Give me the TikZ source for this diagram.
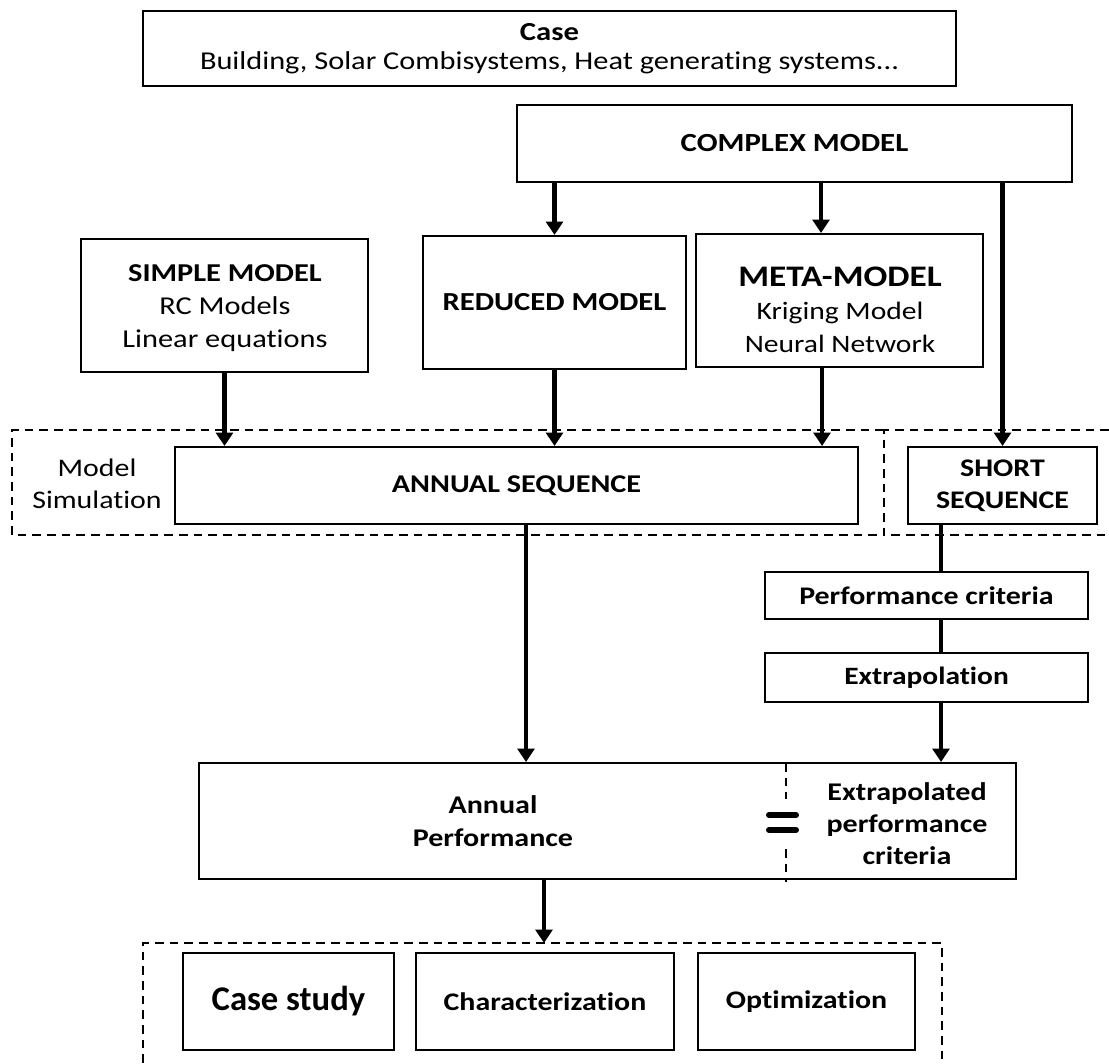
\documentclass[tikz,border=0pt]{standalone}
\usepackage{fontspec}
\setmainfont{Carlito}[FakeStretch=1.18, Ligatures=NoCommon]
\newfontfamily\widefont{Carlito}[Ligatures=NoCommon]
\usetikzlibrary{arrows.meta,calc}
\begin{document}
\begin{tikzpicture}[x=0.75pt,y=-0.75pt,
  box/.style={draw, line width=1.5pt, inner sep=0pt, align=center},
  txt/.style={inner sep=0pt, align=center},
  arr/.style={line width=3.5pt, -{Triangle[length=10pt,width=12.5pt]}},
  conn/.style={line width=3.5pt},
  dsh/.style={line width=1.5pt, dash pattern=on 6.5pt off 4.5pt}]
\useasboundingbox (0,0) rectangle (1109,1063);

% top
\node[box, minimum width=609.75pt, minimum height=56.25pt, font=\fontsize{19.3}{21.75}\selectfont] (case) at (549.5,48.5)
  {{\bfseries\fontsize{19.5}{21.75}\selectfont Case}\\Building, Solar Combisystems, Heat generating systems...};
\node[box, minimum width=416.25pt, minimum height=57.75pt, font=\fontsize{19.6}{24}\selectfont\bfseries] (complex) at (794.5,143.5) {COMPLEX MODEL};

% models
\node[box, minimum width=215.25pt, minimum height=99.75pt] (simple) at (224.5,305.5) {};
\node[txt, font=\fontsize{19.3}{24.75}\selectfont] (simpletxt) at (225,308)
  {{\bfseries SIMPLE MODEL}\\RC Models\\Linear equations};
\node[box, minimum width=197.25pt, minimum height=99.75pt, font=\fontsize{19.5}{24}\selectfont\bfseries] (reduced) at (554.5,302.5) {REDUCED MODEL};
\node[box, minimum width=215.25pt, minimum height=99.75pt] (meta) at (839.5,300.5) {};
\node[txt, font=\fontsize{18.8}{24.75}\selectfont] (metatxt) at (840,310)
  {{\bfseries\fontsize{22.4}{24.75}\selectfont META-MODEL}\\Kriging Model\\Neural Network};

% simulation
\draw[dsh] (884,430) -- (12,430) -- (12,535) -- (884,535);
\draw[dsh] (1109,430) -- (884,430) -- (884,535) -- (1109,535);
\node[txt, font=\fontsize{19}{24}\selectfont] (modsim) at (97,484) {Model\\Simulation};
\node[box, minimum width=512.25pt, minimum height=57.75pt, font=\fontsize{19.2}{24}\selectfont\bfseries] (annual) at (516.5,485.5) {ANNUAL SEQUENCE};
\node[box, minimum width=141.75pt, minimum height=57.75pt, font=\fontsize{19}{24}\selectfont\bfseries] (short) at (1002.5,485.5) {SHORT\\SEQUENCE};

% short sequence chain
\node[box, minimum width=242.25pt, minimum height=35.25pt, font=\fontsize{19}{22}\selectfont\bfseries] (perf) at (926.5,595.5) {Performance criteria};
\node[box, minimum width=242.25pt, minimum height=36.75pt, font=\fontsize{18.7}{22}\selectfont\bfseries] (extrap) at (926.5,677.5) {Extrapolation};

% annual performance
\node[box, minimum width=612.75pt, minimum height=87pt] (annperf) at (607.5,821) {};
\node[txt, font=\fontsize{19.1}{24.75}\selectfont\bfseries] (annperftxt) at (493,821) {Annual\\Performance};
\node[txt, font=\fontsize{19.1}{24}\selectfont\bfseries] (extraptxt) at (907,824) {Extrapolated\\performance\\criteria};
\draw[dsh] (786,763) -- (786,799);
\draw[dsh] (786,849) -- (786,882);
\draw[line width=4.5pt, line cap=round] (769,815) -- (796,815);
\draw[line width=4.5pt, line cap=round] (769,830) -- (796,830);

% results
\draw[dsh] (143,1063) -- (143,943) -- (942,943) -- (942,1063);
\coordinate (grp) at (544,943);
\node[box, minimum width=158.25pt, minimum height=72.75pt, font=\widefont\fontsize{26}{30}\selectfont\bfseries] (casestudy) at (288.5,1001.5) {Case study};
\node[box, minimum width=193.5pt, minimum height=72.75pt, font=\fontsize{19}{24}\selectfont\bfseries] (charac) at (545,1001.5) {Characterization};
\node[box, minimum width=162.75pt, minimum height=72.75pt, font=\fontsize{19}{24}\selectfont\bfseries] (optim) at (806.5,1001.5) {Optimization};

% connectors
\draw[arr] (reduced.north |- complex.south) -- (reduced.north);
\draw[arr] (complex.south -| 821,0) -- (meta.north -| 821,0);
\draw[arr] (complex.south -| short.north) -- (short.north);
\draw[arr] (simple.south) -- (simple.south |- annual.north);
\draw[arr] (reduced.south) -- (reduced.south |- annual.north);
\draw[arr] (meta.south -| 822,0) -- (annual.north -| 822,0);
\draw[conn] (short.south -| 941,0) -- (perf.north -| 941,0);
\draw[conn] (perf.south -| 941,0) -- (extrap.north -| 941,0);
\draw[arr] (extrap.south -| 941,0) -- (annperf.north -| 941,0);
\draw[arr] (annual.south -| 526,0) -- (annperf.north -| 526,0);
\draw[arr] (annperf.south -| grp) -- (grp);
\end{tikzpicture}
\end{document}
